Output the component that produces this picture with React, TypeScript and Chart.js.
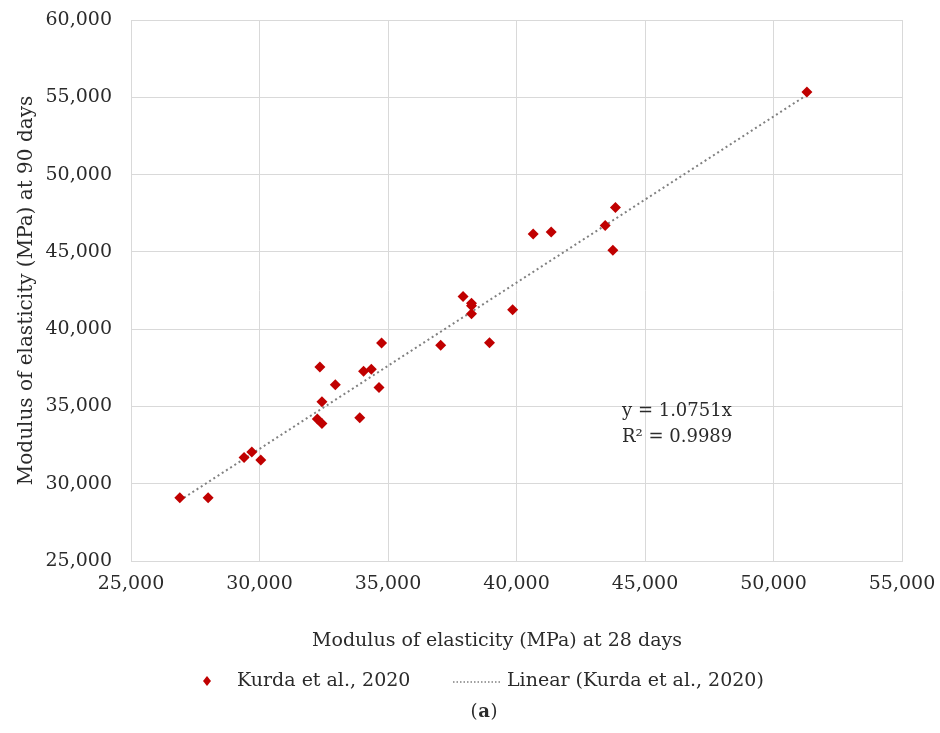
import React, { useEffect, useRef } from "react";
import { Chart, registerables } from "chart.js";

Chart.register(...registerables);

// Modulus of elasticity (MPa): 28-day value vs 90-day value
const modulus28 = [
  26900, 28000, 29400, 29700, 30050, 32350, 32430, 32250, 32430, 32950,
  33900, 34050, 34350, 34650, 34750, 37050, 37920, 38250, 38250, 38250,
  38950, 39850, 40650, 41350, 43450, 43850, 43750, 51300,
];
const modulus90 = [
  29100, 29100, 31700, 32050, 31530, 37550, 35300, 34180, 33900, 36400,
  34270, 37270, 37400, 36230, 39100, 38950, 42110, 41680, 41510, 40990,
  39120, 41250, 46150, 46280, 46700, 47870, 45110, 55350,
];

// Linear trend through the origin: y = 1.0751x
const trendSlope = 1.0751;
const trendR2 = 0.9989;

const xTicks = [25000, 30000, 35000, 40000, 45000, 50000, 55000];
const yTicks = [25000, 30000, 35000, 40000, 45000, 50000, 55000, 60000];

const seriesLabel = "Kurda et al., 2020";
const trendLabel = "Linear (Kurda et al., 2020)";
const xTitle = "Modulus of elasticity (MPa) at 28 days";
const yTitle = "Modulus of elasticity (MPa) at 90 days";

const FONT = "'DejaVu Serif', 'Liberation Serif', serif";
const TEXT = "#2b2b2b";
const RED = "#C00000";

const fmt = (v: number) => String(v).replace(/\B(?=(\d{3})+(?!\d))/g, ",");

export default function App() {
  const ref = useRef<HTMLCanvasElement | null>(null);

  useEffect(() => {
    document.body.style.margin = "0";
    const canvas = ref.current;
    if (!canvas) return;

    const points = modulus28.map((x, i) => ({ x, y: modulus90[i] }));
    const xMin = Math.min(...modulus28);
    const xMax = Math.max(...modulus28);
    const trend = [
      { x: xMin, y: trendSlope * xMin },
      { x: xMax, y: trendSlope * xMax },
    ];

    const labelsPlugin = {
      id: "labels",
      afterDraw(chart: any) {
        const ctx = chart.ctx as CanvasRenderingContext2D;
        const area = chart.chartArea;
        ctx.save();
        ctx.fillStyle = TEXT;
        ctx.textBaseline = "middle";

        // x-axis title
        ctx.font = `19px ${FONT}`;
        ctx.textAlign = "center";
        ctx.fillText(xTitle, 497, 641);

        // y-axis title
        ctx.save();
        ctx.font = `20px ${FONT}`;
        ctx.translate(27, (area.top + area.bottom) / 2);
        ctx.rotate(-Math.PI / 2);
        ctx.fillText(yTitle, 0, 0);
        ctx.restore();

        // trendline equation
        ctx.font = `18px ${FONT}`;
        ctx.textAlign = "left";
        ctx.fillText(`y = ${trendSlope}x`, 622, 411);
        ctx.fillText(`R² = ${trendR2}`, 622, 437);

        // legend
        const ly = 681;
        ctx.fillStyle = RED;
        ctx.beginPath();
        ctx.moveTo(207, ly - 5);
        ctx.lineTo(211, ly);
        ctx.lineTo(207, ly + 5);
        ctx.lineTo(203, ly);
        ctx.closePath();
        ctx.fill();
        ctx.fillStyle = TEXT;
        ctx.font = `19px ${FONT}`;
        ctx.fillText(seriesLabel, 237, ly);
        ctx.strokeStyle = "#808080";
        ctx.lineWidth = 1.5;
        ctx.setLineDash([1.5, 2]);
        ctx.beginPath();
        ctx.moveTo(453, ly + 1);
        ctx.lineTo(500, ly + 1);
        ctx.stroke();
        ctx.setLineDash([]);
        ctx.fillText(trendLabel, 507, ly);

        // caption
        ctx.textAlign = "center";
        ctx.font = `18px ${FONT}`;
        ctx.fillText("(", 474, 712);
        ctx.fillText(")", 494, 712);
        ctx.font = `bold 18px ${FONT}`;
        ctx.fillText("a", 484, 712);
        ctx.restore();
      },
    };

    const chart = new Chart(canvas, {
      type: "scatter",
      data: {
        datasets: [
          {
            label: seriesLabel,
            data: points,
            pointStyle: "rectRot",
            pointRadius: 5.5,
            backgroundColor: RED,
            borderColor: RED,
            borderWidth: 0,
            order: 1,
          },
          {
            label: trendLabel,
            type: "line",
            data: trend,
            showLine: true,
            pointRadius: 0,
            borderColor: "#808080",
            borderWidth: 2,
            borderDash: [2, 3],
            fill: false,
            order: 2,
          } as any,
        ],
      },
      options: {
        responsive: false,
        animation: false,
        layout: { padding: { top: 20, right: 38, left: 0, bottom: 0 } },
        plugins: {
          legend: { display: false },
          tooltip: { enabled: false },
        },
        scales: {
          x: {
            type: "linear",
            min: 25000,
            max: 55000,
            afterFit(scale: any) {
              scale.height = 172;
              scale.paddingLeft = 0;
              scale.paddingRight = 0;
            },
            afterBuildTicks(scale: any) {
              scale.ticks = xTicks.map((v) => ({ value: v }));
            },
            grid: { color: "#d9d9d9", lineWidth: 1, drawTicks: false },
            border: { color: "#d9d9d9" },
            ticks: {
              padding: 12,
              color: TEXT,
              font: { family: FONT, size: 19 },
              maxRotation: 0,
              callback: (v: any) => fmt(Number(v)),
            },
          },
          y: {
            type: "linear",
            min: 25000,
            max: 60000,
            afterFit(scale: any) {
              scale.width = 131;
              scale.paddingTop = 0;
              scale.paddingBottom = 0;
            },
            afterBuildTicks(scale: any) {
              scale.ticks = yTicks.map((v) => ({ value: v }));
            },
            grid: { color: "#d9d9d9", lineWidth: 1, drawTicks: false },
            border: { color: "#d9d9d9" },
            ticks: {
              padding: 19,
              color: TEXT,
              font: { family: FONT, size: 19 },
              callback: (v: any) => fmt(Number(v)),
            },
          },
        },
      },
      plugins: [labelsPlugin],
    });

    return () => chart.destroy();
  }, []);

  return <canvas ref={ref} width={940} height={733} style={{ display: "block" }} />;
}
